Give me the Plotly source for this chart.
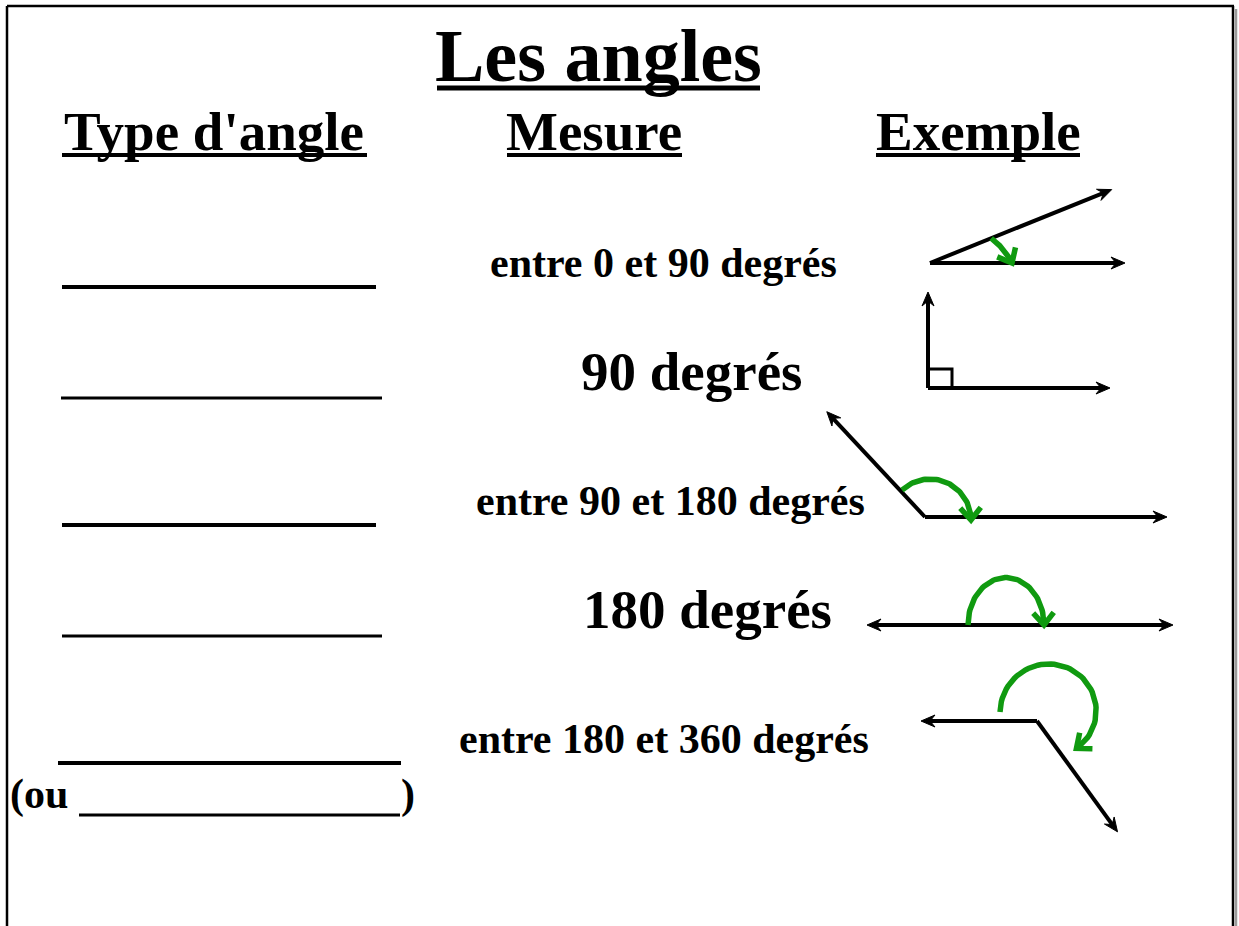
import numpy as np
import plotly.graph_objects as go

# Texts of the worksheet
titre = "Les angles"
entetes = ["Type d'angle", "Mesure", "Exemple"]
mesures = ["entre 0 et 90 degrés", "90 degrés", "entre 90 et 180 degrés",
           "180 degrés", "entre 180 et 360 degrés"]
autre_nom = ["(ou", ")"]

# Angle drawn in each example (degrees)
angles = [22, 90, 133, 180, 234]

# ---- layout (pixels, y goes down) ----
W, H = 1239, 926
police = "Liberation Serif"
noir = "black"
vert = "#109a10"

entete_x = [214, 594, 978]
entete_souligne = [(62, 367), (507, 682), (876, 1080)]

mesure_x = [663, 691, 670, 707, 664]
mesure_base = [277, 390, 515, 628, 753]
mesure_taille = [42, 55, 42, 55, 42]

# answer blanks: x0, x1, y, thickness
blancs = [(62, 376, 287, 4), (61, 382, 398, 3), (62, 376, 525, 4),
          (62, 382, 636, 3), (58, 401, 763, 4)]

# example drawings
sommets = [(930, 263), (928, 388), (925, 517), (1009, 625), (1037, 721)]
depart = [22, 90, 133, 180, 180]     # direction of the first ray
long_depart = [196, 96, 144, 142, 116]
long_fin = [195, 182, 242, 164, 137]
# hand drawn green arcs: radius at start, radius at end, vertical stretch, centre shift
arc_r = [(66, 82), None, (41, 41), (38, 38), (50, 45)]
arc_etire = [1, None, 1, 1.25, 1]
arc_decal = [(0, 0), None, (5, 3), (-3, 0), (13, -9)]


def point(cx, cy, theta, r, etire=1):
    t = np.radians(theta)
    return cx + r * np.cos(t), cy - etire * r * np.sin(t)


def texte_y(base, taille):
    return base - 0.34 * taille


fig = go.Figure()


def ligne(xs, ys, couleur=noir, largeur=4):
    fig.add_trace(go.Scatter(x=xs, y=ys, mode="lines", hoverinfo="skip",
                             line=dict(color=couleur, width=largeur)))


def fleche(x0, y0, theta, longueur):
    # ray with a notched black arrowhead at its end
    tx, ty = point(x0, y0, theta, longueur)
    dx, dy = np.cos(np.radians(theta)), -np.sin(np.radians(theta))
    nx, ny = -dy, dx
    ex, ey = tx - 8 * dx, ty - 8 * dy
    ligne([x0, ex], [y0, ey], largeur=4)
    px = [tx, tx - 14 * dx + 6 * nx, tx - 9 * dx, tx - 14 * dx - 6 * nx, tx]
    py = [ty, ty - 14 * dy + 6 * ny, ty - 9 * dy, ty - 14 * dy - 6 * ny, ty]
    fig.add_trace(go.Scatter(x=px, y=py, mode="lines", fill="toself",
                             fillcolor=noir, hoverinfo="skip",
                             line=dict(color=noir, width=1)))


for i, a in enumerate(angles):
    vx, vy = sommets[i]
    fin = depart[i] - a
    fleche(vx, vy, depart[i], long_depart[i])
    fleche(vx, vy, fin, long_fin[i])
    if arc_r[i] is None:
        # right angle mark
        c1 = point(vx, vy, fin, 24)
        c3 = point(vx, vy, depart[i], 19)
        c2 = (c1[0] + c3[0] - vx, c1[1] + c3[1] - vy)
        ligne([c1[0], c2[0], c3[0]], [c1[1], c2[1], c3[1]], largeur=3)
        continue
    cx, cy = vx + arc_decal[i][0], vy + arc_decal[i][1]
    th = np.linspace(depart[i], fin, 60)
    rr = np.linspace(arc_r[i][0], arc_r[i][1], 60)
    xs, ys = point(cx, cy, th, rr, arc_etire[i])
    ligne(list(xs), list(ys), couleur=vert, largeur=5.5)
    # green arrowhead, pointing along the drawn direction at the end
    d = np.array([xs[-1] - xs[-3], ys[-1] - ys[-3]])
    d = d / np.hypot(*d)
    tip = np.array([xs[-1], ys[-1]])
    bras = []
    for s in (40, -40):
        r = np.radians(s)
        rot = np.array([d[0] * np.cos(r) - d[1] * np.sin(r),
                        d[0] * np.sin(r) + d[1] * np.cos(r)])
        bras.append(tip - 16 * rot)
    ligne([bras[0][0], tip[0], bras[1][0]], [bras[0][1], tip[1], bras[1][1]],
          couleur=vert, largeur=5.5)

shapes = []
# page frame
shapes.append(dict(type="line", x0=7, x1=7, y0=6, y1=H + 5, line=dict(color=noir, width=2.5)))
shapes.append(dict(type="line", x0=7, x1=1234, y0=6, y1=6, line=dict(color=noir, width=2.5)))
shapes.append(dict(type="line", x0=1233, x1=1233, y0=6, y1=H + 5, line=dict(color=noir, width=2.5)))
shapes.append(dict(type="line", x0=1236, x1=1236, y0=9, y1=H + 5, line=dict(color="#9a9a9a", width=2.5)))
# underlines
shapes.append(dict(type="line", x0=437, x1=760, y0=88, y1=88, line=dict(color=noir, width=5)))
for x0, x1 in entete_souligne:
    shapes.append(dict(type="line", x0=x0, x1=x1, y0=155, y1=155, line=dict(color=noir, width=4)))
for x0, x1, y, w in blancs:
    shapes.append(dict(type="line", x0=x0, x1=x1, y0=y, y1=y, line=dict(color=noir, width=w)))
shapes.append(dict(type="line", x0=79, x1=400, y0=815, y1=815, line=dict(color=noir, width=3)))
for s in shapes:
    s.update(xref="x", yref="y", layer="below")

annotations = [dict(x=598, y=texte_y(81, 74), text=titre,
                    font=dict(size=74))]
for t, x in zip(entetes, entete_x):
    annotations.append(dict(x=x, y=texte_y(150, 55), text=t, font=dict(size=55)))
for t, x, b, s in zip(mesures, mesure_x, mesure_base, mesure_taille):
    annotations.append(dict(x=x, y=texte_y(b, s), text=t, font=dict(size=s)))
annotations.append(dict(x=8, y=texte_y(809, 42), text=autre_nom[0],
                        xanchor="left", font=dict(size=42)))
annotations.append(dict(x=399, y=texte_y(809, 42), text=autre_nom[1],
                        xanchor="left", font=dict(size=42)))
for a in annotations:
    a.update(xref="x", yref="y", showarrow=False, yanchor="middle")
    a.setdefault("xanchor", "center")
    a["font"].update(family=police, color=noir, weight="bold")

fig.update_layout(
    width=W, height=H,
    margin=dict(l=0, r=0, t=0, b=0),
    paper_bgcolor="white", plot_bgcolor="white",
    showlegend=False,
    xaxis=dict(range=[0, W], visible=False, fixedrange=True),
    yaxis=dict(range=[H, 0], visible=False, fixedrange=True),
    shapes=shapes,
    annotations=annotations,
)

fig.write_html("out.html", config={"displayModeBar": False},
               post_script="document.body.style.margin='0';document.body.style.overflow='hidden';")
